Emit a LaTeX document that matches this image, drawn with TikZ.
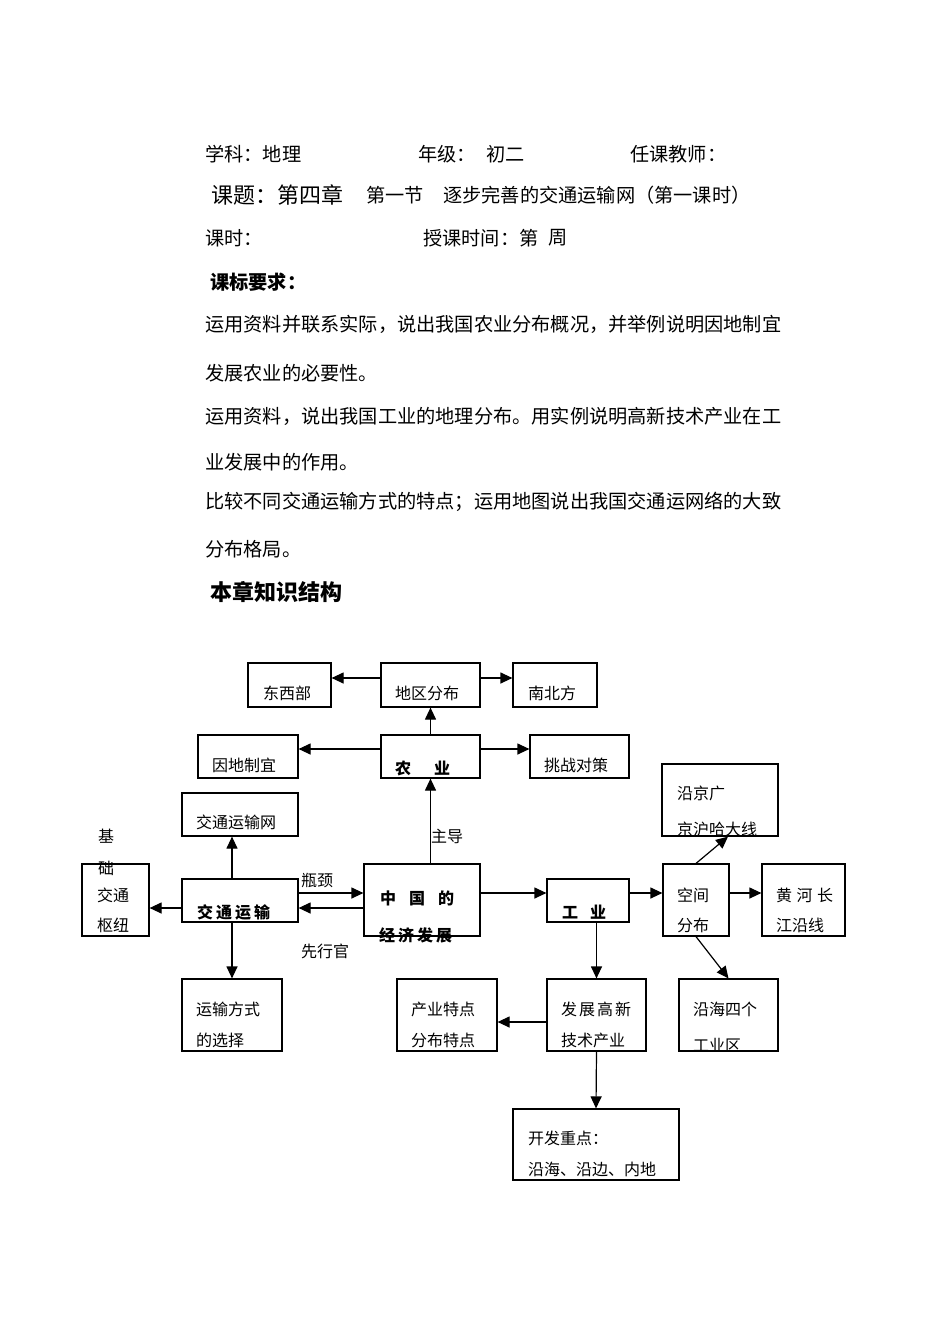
\documentclass[tikz,border=0pt]{standalone}
\usepackage{fontspec}
\setmainfont{Noto Sans CJK SC}
\usetikzlibrary{arrows.meta}
\tikzset{
  box/.style={draw, line width=1.2pt, inner sep=0pt},
  lbl/.style={anchor=west, inner sep=0pt, font=\fontsize{16pt}{16pt}\selectfont},
  lblb/.style={anchor=west, inner sep=0pt, font=\fontsize{16pt}{16pt}\selectfont\bfseries},
  hd/.style={anchor=west, inner sep=0pt, font=\fontsize{19.2pt}{19.2pt}\selectfont},
  hdb/.style={anchor=west, inner sep=0pt, font=\fontsize{19.2pt}{19.2pt}\selectfont\bfseries},
  big/.style={anchor=west, inner sep=0pt, font=\fontsize{22pt}{22pt}\selectfont},
  bigb/.style={anchor=west, inner sep=0pt, font=\fontsize{22pt}{22pt}\selectfont\bfseries},
  arr/.style={line width=1.2pt, -{Triangle[length=12pt,width=11pt]}},
}
\newcommand\mybox[5]{\node[box, minimum width={#4-#2}, minimum height={#5-#3}] (#1) at ({(#2+#4)/2},{(#3+#5)/2}) {};}
\begin{document}
\begin{tikzpicture}[x=1pt,y=-1pt]
\fill[white] (0,0) rectangle (950,1342);
\useasboundingbox (0,0) rectangle (950,1342);

% ---------- header ----------
\node[hd] (h1) at (205,154) {学科：地理};
\node[hd] (h2) at (418,154) {年级：};
\node[hd] (h3) at (486,154) {初二};
\node[hd] (h4) at (630,154) {任课教师：};
\node[big] (h5) at (211,195) {课题：第四章};
\node[hd] (h6) at (366,195) {第一节};
\node[hd] (h7) at (443,195) {逐步完善的交通运输网（第一课时）};
\node[hd] (h8) at (205,238) {课时：};
\node[hd] (h9) at (423,238) {授课时间：第};
\node[hd] (h10) at (548,238) {周};
\node[hdb] (h11) at (210,282) {课标要求：};
\node[hd] (b1) at (205,324) {运用资料并联系实际，说出我国农业分布概况，并举例说明因地制宜};
\node[hd] (b2) at (205,373) {发展农业的必要性。};
\node[hd] (b3) at (205,416) {运用资料，说出我国工业的地理分布。用实例说明高新技术产业在工};
\node[hd] (b4) at (205,462) {业发展中的作用。};
\node[hd] (b5) at (205,502) {比较不同交通运输方式的特点；运用地图说出我国交通运网络的大致};
\node[hd] (b6) at (205,549) {分布格局。};
\node[bigb] (h12) at (210,592) {本章知识结构};

% ---------- boxes ----------
\mybox{dxb}{248}{663}{331}{707}
\mybox{dq}{381}{663}{480}{707}
\mybox{nbf}{513}{663}{597}{707}
\mybox{yd}{198}{735}{298}{778}
\mybox{ny}{381}{735}{480}{778}
\mybox{tz}{530}{735}{629}{778}
\mybox{jg}{662}{764}{778}{836}
\mybox{jtw}{182}{793}{298}{836}
\mybox{sn}{82}{864}{149}{936}
\mybox{jt}{182}{879}{298}{922}
\mybox{zg}{364}{864}{480}{936}
\mybox{gy}{547}{879}{629}{922}
\mybox{kj}{663}{864}{729}{936}
\mybox{hh}{762}{864}{845}{936}
\mybox{ys}{182}{979}{282}{1051}
\mybox{cy}{397}{979}{497}{1051}
\mybox{fz}{547}{979}{646}{1051}
\mybox{yh}{679}{979}{778}{1051}
\mybox{kf}{513}{1109}{679}{1180}

% ---------- box texts ----------
\node[lbl] (t1) at (263,693) {东西部};
\node[lbl] (t2) at (395,693) {地区分布};
\node[lbl] (t3) at (528,693) {南北方};
\node[lbl] (t4) at (212,765) {因地制宜};
\node[lblb] (t5) at (395,768) {农};
\node[lblb] (t5b) at (434,768) {业};
\node[lbl] (t6) at (544,765) {挑战对策};
\node[lbl] (t7) at (677,793) {沿京广};
\node[lbl] (t8) at (677,829) {京沪哈大线};
\node[lbl] (t9) at (196,822) {交通运输网};
\node[lbl] (t10) at (98,836) {基};
\node[lbl] (t11) at (98,868) {础};
\node[lbl] (t12) at (97,895) {交通};
\node[lbl] (t13) at (97,925) {枢纽};
\node[lblb] (t14) at (197,912) {交\kern3pt 通\kern3pt 运\kern3pt 输};
\node[lbl] (t15) at (301,880) {瓶颈};
\node[lbl] (t16) at (301,951) {先行官};
\node[lbl] (t17) at (431,836) {主导};
\node[lblb] (t18) at (380,898) {中\kern13pt 国\kern13pt 的};
\node[lblb] (t19) at (379,935) {经\kern3pt 济\kern3pt 发\kern3pt 展};
\node[lblb] (t20) at (562,912) {工\kern12pt 业};
\node[lbl] (t21) at (677,895) {空间};
\node[lbl] (t22) at (677,925) {分布};
\node[lbl] (t23) at (776,895) {黄\kern4.5pt 河\kern4.5pt 长};
\node[lbl] (t24) at (776,925) {江沿线};
\node[lbl] (t25) at (196,1009) {运输方式};
\node[lbl] (t26) at (196,1040) {的选择};
\node[lbl] (t27) at (411,1009) {产业特点};
\node[lbl] (t28) at (411,1040) {分布特点};
\node[lbl] (t29) at (561,1009) {发\kern2pt 展\kern2pt 高\kern2pt 新};
\node[lbl] (t30) at (561,1040) {技术产业};
\node[lbl] (t31) at (693,1009) {沿海四个};
\node[lbl] (t32) at (693,1045) {工业区};
\node[lbl] (t33) at (528,1138) {开发重点：};
\node[lbl] (t34) at (528,1169) {沿海、沿边、内地};

% ---------- arrows ----------
\draw[arr] ([yshift=7pt]dq.west) -- ([yshift=7pt]dxb.east);
\draw[arr] ([yshift=7pt]dq.east) -- ([yshift=7pt]nbf.west);
\draw[arr] (ny.north) -- (dq.south);
\draw[arr] ([yshift=7.5pt]ny.west) -- ([yshift=7.5pt]yd.east);
\draw[arr] ([yshift=7.5pt]ny.east) -- ([yshift=7.5pt]tz.west);
\draw[arr] (zg.north -| ny.south) -- (ny.south);
\draw[arr] ([xshift=-8pt]jt.north) -- ([xshift=-8pt]jtw.south);
\draw[arr] ([yshift=-7.5pt]jt.west) -- ([yshift=-8pt]sn.east);
\draw[arr] (jt.south -| ys.north) -- (ys.north);
\draw[arr] ([yshift=7.5pt]jt.east) -- ([yshift=7pt]zg.west);
\draw[arr] ([yshift=-8pt]zg.west) -- ([yshift=-7.5pt]jt.east);
\draw[arr] ([yshift=7pt]zg.east) -- ([yshift=7.5pt]gy.west);
\draw[arr] ([yshift=7.5pt]gy.east) -- ([yshift=7pt]kj.west);
\draw[arr] ([yshift=7pt]kj.east) -- ([yshift=7pt]hh.west);
\draw[arr] (kj.north) -- ([xshift=8pt]jg.south);
\draw[arr] (kj.south) -- (yh.north);
\draw[arr] (gy.south -| fz.north) -- (fz.north);
\draw[arr] ([yshift=-7pt]fz.west) -- ([yshift=-7pt]cy.east);
\draw[arr] (fz.south) -- (kf.north);
\end{tikzpicture}
\end{document}
